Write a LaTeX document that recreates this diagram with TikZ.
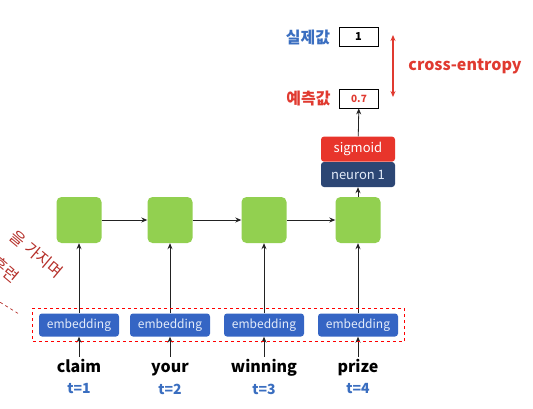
\documentclass[tikz,border=0pt]{standalone}
\usepackage{fontspec}
\setmainfont{Noto Sans CJK KR}
\usepackage{xcolor}
\definecolor{cellgreen}{HTML}{92D050}
\definecolor{embblue}{HTML}{3565C4}
\definecolor{embtext}{HTML}{E4ECFA}
\definecolor{neuronblue}{HTML}{2C4674}
\definecolor{sigred}{HTML}{E8352B}
\definecolor{labelred}{HTML}{E03A30}
\definecolor{labelblue}{HTML}{3A6EC0}
\definecolor{notered}{HTML}{B5302A}
\definecolor{arrowgray}{HTML}{222222}
\usepackage{tikz}
\usetikzlibrary{arrows.meta,positioning,fit}

\begin{document}
\begin{tikzpicture}[x=1pt,y=-1pt,
    cell/.style={fill=cellgreen, rounded corners=5pt, minimum width=45pt, minimum height=46pt},
    embed/.style={fill=embblue, rounded corners=3pt, minimum width=80pt, minimum height=23pt, inner sep=0pt,
      text=embtext, font=\fontsize{12}{14}\selectfont},
    layerbox/.style={rounded corners=3pt, minimum width=74pt, minimum height=25pt, inner sep=0pt,
      font=\fontsize{13}{15}\selectfont},
    word/.style={font=\fontsize{16}{18}\selectfont\bfseries, text height=12pt, text depth=3pt},
    tlabel/.style={text=labelblue, font=\fontsize{14}{16}\selectfont\bfseries},
    valbox/.style={draw=black, line width=0.8pt, minimum width=39pt, minimum height=19pt, inner sep=0pt},
    fwd/.style={draw=arrowgray, line width=0.8pt, -{Stealth[length=6pt,width=5pt]}},
    note/.style={text=notered, font=\fontsize{16}{18}\selectfont, rotate=-40, anchor=base east, inner sep=0pt}]
  \useasboundingbox (0,0) rectangle (533,408);
  \foreach \x/\w [count=\i] in {79/claim,170/your,264/winning,358/prize} {
    \node[cell] (cell\i) at (\x,220) {};
    \node[embed] (emb\i) at (\x,325) {embedding};
    \node[word] (word\i) at (\x,368) {\w};
    \node[tlabel] (tstep\i) at (\x,389) {t=\i};
    \draw[fwd] (word\i) -- (emb\i);
    \draw[fwd] (emb\i) -- (cell\i);
  }
  \foreach \i/\j in {1/2,2/3,3/4}
    \draw[fwd] (cell\i) -- (cell\j);
  \node[draw=red, dashed, line width=0.9pt, fit=(emb1)(emb4), inner xsep=6pt, inner ysep=5pt] (embgroup) {};
  \node[layerbox, fill=neuronblue, text=embtext] (neuron) at (358,174.5) {neuron 1};
  \node[layerbox, fill=sigred, text=white, above=0pt of neuron] (sigm) {sigmoid};
  \draw[fwd] (cell4) -- (neuron);
  \node[valbox, font=\fontsize{10}{12}\selectfont\bfseries, text=labelred] (pred) at (359,98.5) {0.7};
  \node[valbox, font=\fontsize{11}{13}\selectfont\bfseries] (truth) at (358.5,37) {1};
  \draw[fwd] (sigm) -- (pred);
  \node[left=5pt of pred, text=labelred, font=\fontsize{16}{18}\selectfont\bfseries] (predlabel) {예측값};
  \node[left=5pt of truth, text=labelblue, font=\fontsize{16}{18}\selectfont\bfseries] (truthlabel) {실제값};
  \coordinate (ceTop) at (393,35);
  \coordinate (ceBot) at (393,97);
  \draw[draw=labelred, line width=1.2pt, {Stealth[length=6pt,width=5pt]}-{Stealth[length=6pt,width=5pt]}] (ceTop) -- (ceBot);
  \node[text=labelred, font=\fontsize{16}{18}\selectfont\bfseries] (celabel) at (465,66) {cross-entropy};
  \node[note] (note1) at (57,279) {을 가지며};
  \node[note] (note2) at (13,284) {훈련};
  \coordinate (noteStart) at (-10,296);
  \coordinate (noteEnd) at (19,314);
  \draw[notered, dashed, line width=0.7pt] (noteStart) -- (noteEnd);
\end{tikzpicture}
\end{document}
